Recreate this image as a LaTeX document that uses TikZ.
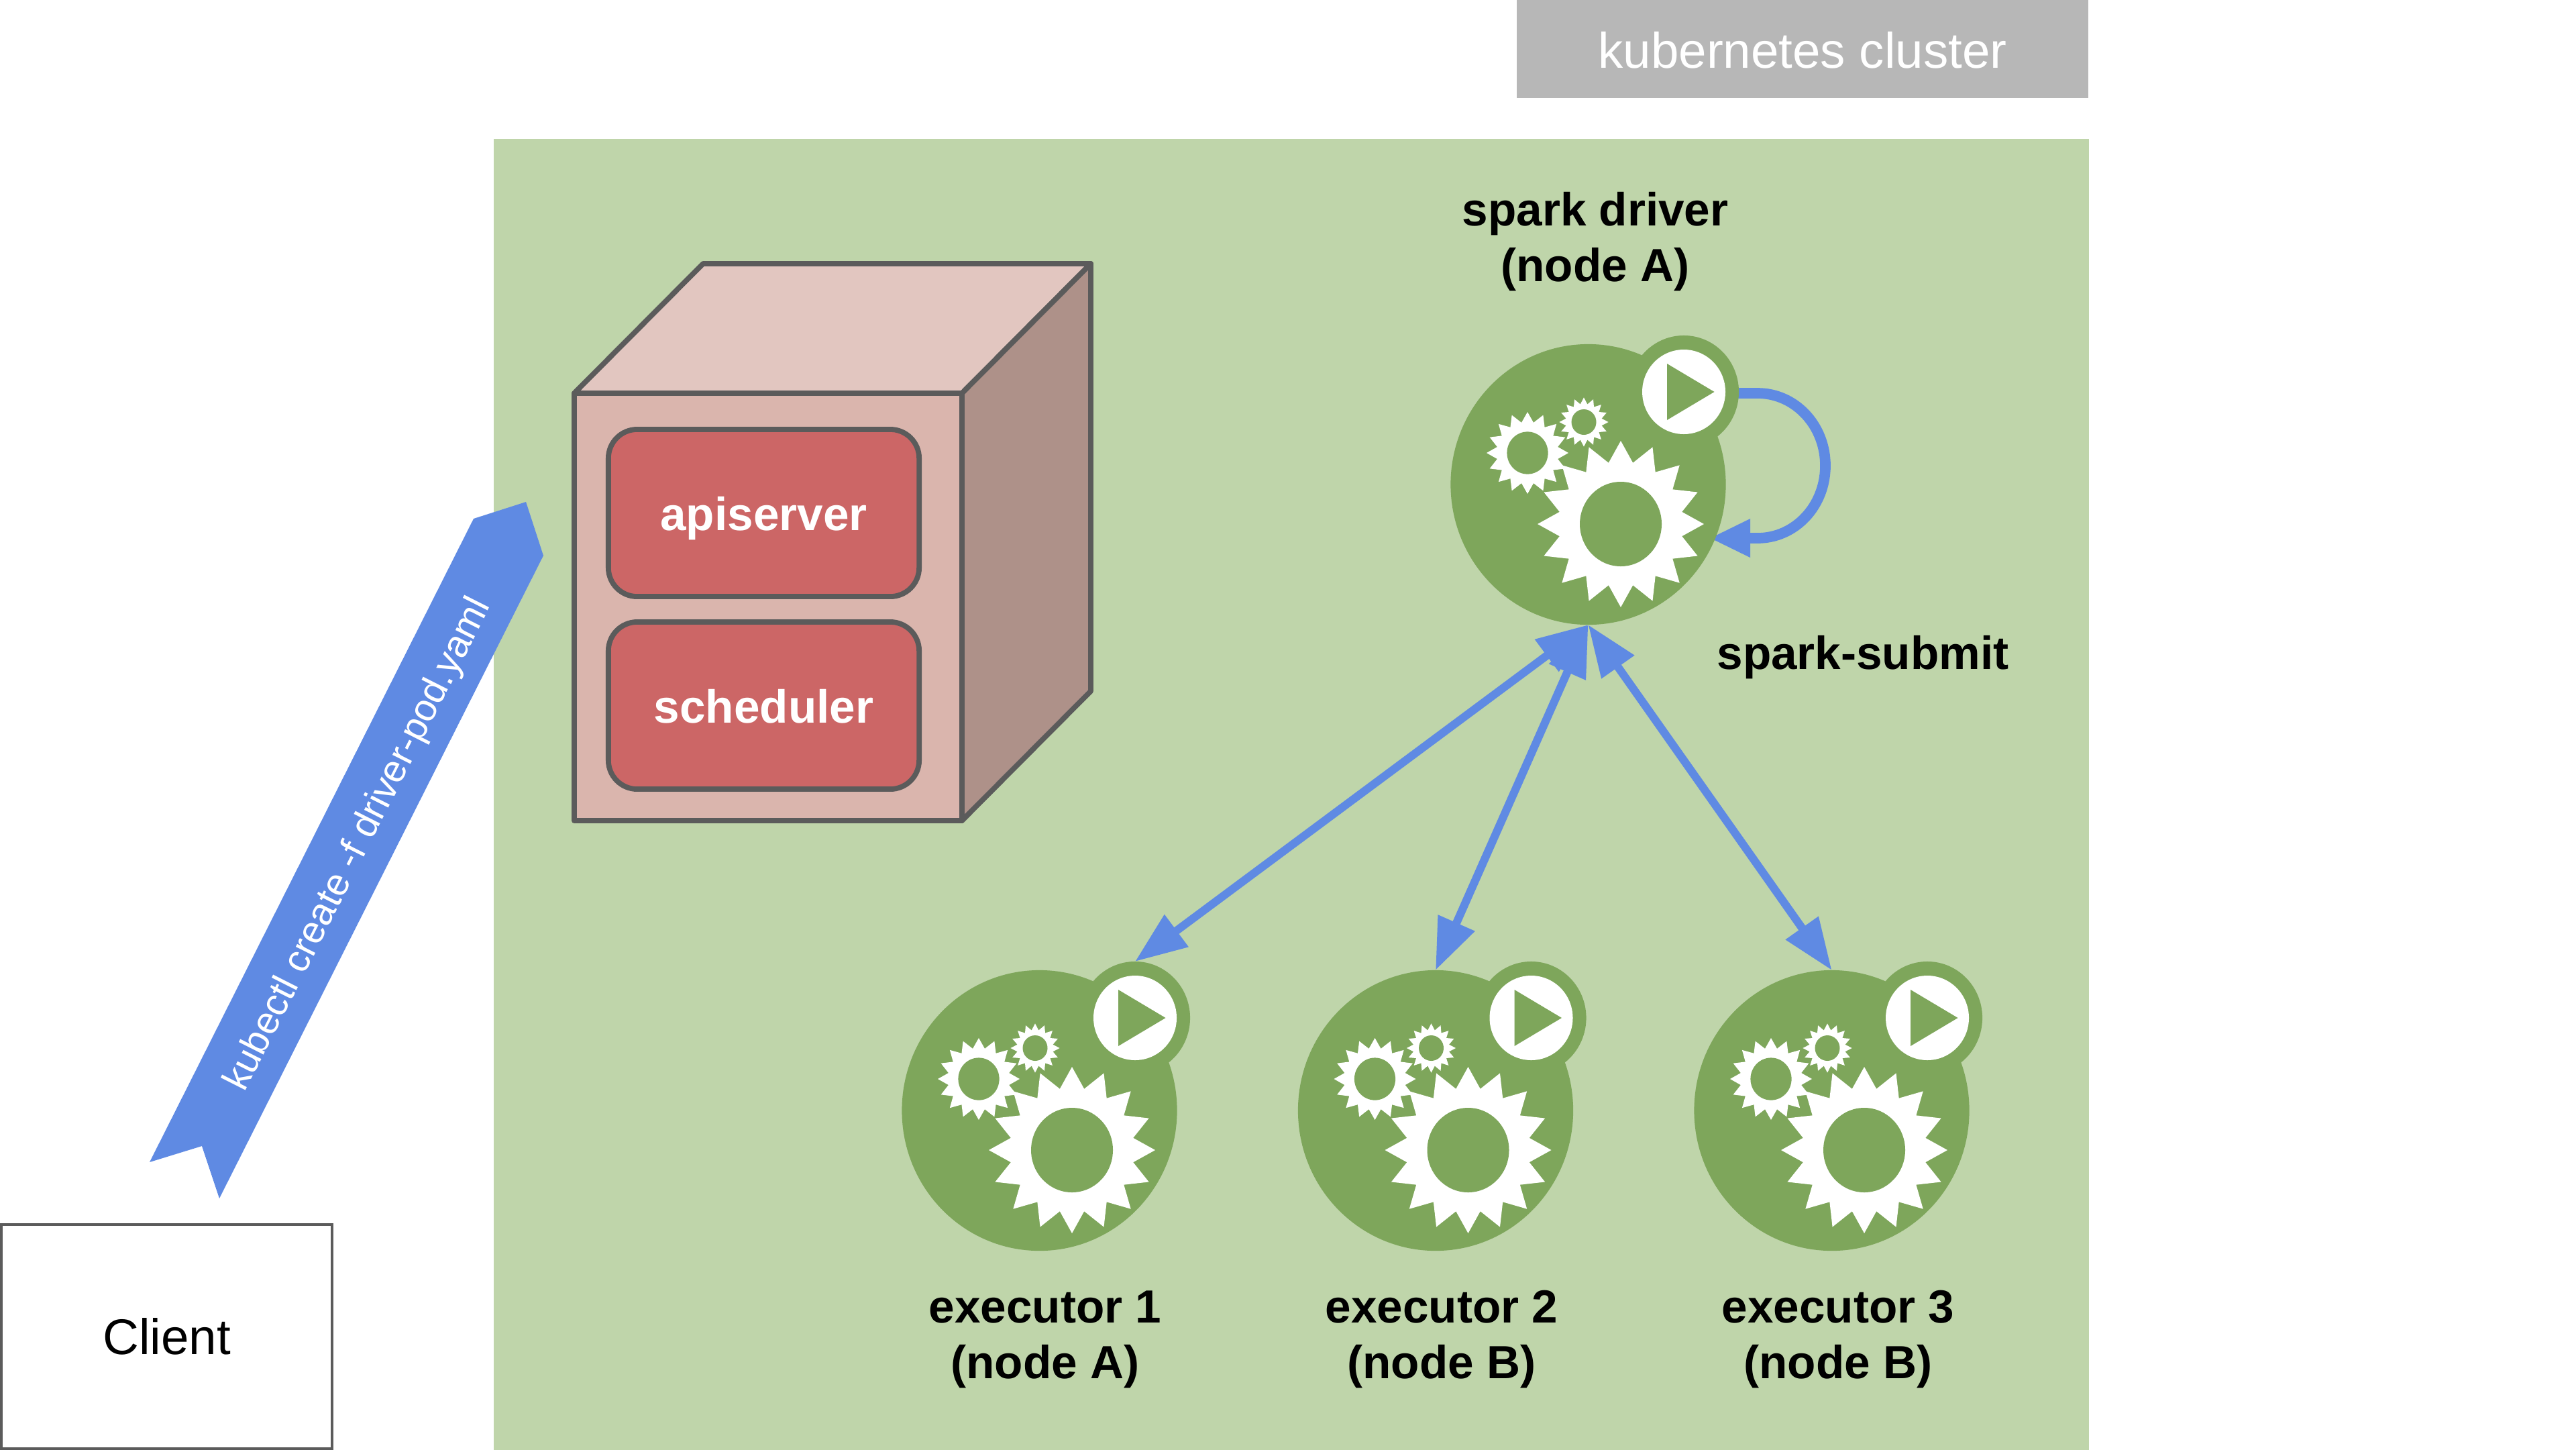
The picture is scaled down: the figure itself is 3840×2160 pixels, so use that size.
\documentclass[tikz,border=0pt]{standalone}
\usepackage{fontspec}
\setmainfont{Liberation Sans}
\usetikzlibrary{shapes.geometric,arrows.meta}
\pgfdeclarelayer{back}
\pgfdeclarelayer{conn}
\pgfsetlayers{back,conn,main}
\definecolor{regionGreen}{HTML}{BFD5AA}
\definecolor{iconGreen}{HTML}{7EA65B}
\definecolor{linkBlue}{HTML}{5F8AE3}
\definecolor{boxTop}{HTML}{E2C6C0}
\definecolor{boxFront}{HTML}{DAB5AD}
\definecolor{boxSide}{HTML}{AE9189}
\definecolor{boxRed}{HTML}{CC6666}
\definecolor{boxLine}{HTML}{5B5B5B}
\definecolor{clusterGrey}{HTML}{B7B7B7}
\newcommand{\gearshape}[6]{%
  \begin{scope}[shift={(#1,#2)}]
    \fill[white] (90:#3) \foreach \k in {1,...,15}{ -- ({90+\k*22.5-11.25}:#4) -- ({90+\k*22.5}:#3)} -- (78.75:#4) -- cycle;
    \fill[iconGreen] (0,0) ellipse [x radius=#5, y radius=#6];
  \end{scope}}
\tikzset{
  flatnode/.style={inner sep=0pt,outer sep=0pt},
  iconbody/.style={flatnode,ellipse,fill=iconGreen,minimum width=4.10cm,minimum height=4.18cm},
  iconring/.style={flatnode,ellipse,fill=iconGreen,minimum width=1.64cm,minimum height=1.68cm},
  cube/.style={draw=boxLine,line width=0.078cm,line join=round},
  boldlabel/.style={flatnode,align=center,font=\fontsize{19.7}{23.7}\selectfont\bfseries},
  podbox/.style={flatnode,draw=boxLine,line width=0.078cm,fill=boxRed,rounded corners=0.43cm,minimum width=4.63cm,minimum height=2.49cm,text=white,font=\fontsize{19.7}{23.7}\selectfont\bfseries,text height=0.62cm,text depth=0.11cm},
  plainlabel/.style={font=\fontsize{21.2}{25}\selectfont},
  biarrow/.style={draw=linkBlue,line width=0.12cm,{Triangle[length=0.77cm,width=0.57cm]}-{Triangle[length=0.77cm,width=0.57cm]}},
  looparrow/.style={draw=linkBlue,line width=0.157cm,-{Triangle[length=0.61cm,width=0.53cm]}},
  sparkicon/.pic={
    \node[iconbody] (body) at (0,0) {};
    \node[iconring] (play) at (142.5,-138) {};
    \fill[white] (142.5,-138) ellipse [x radius=62, y radius=63];
    \fill[iconGreen] (117.5,-180) -- (117.5,-96) -- (188,-138) -- cycle;
    \gearshape{48.5}{59}{124}{93}{61}{63}
    \gearshape{-90.5}{-47}{61}{46}{30.6}{31.6}
    \gearshape{-6.5}{-93}{36.6}{27}{18.5}{19}
  }
}
\begin{document}
\begin{tikzpicture}[x=0.01cm,y=-0.01cm]
\useasboundingbox (0,0) rectangle (3840,2160);
\begin{pgfonlayer}{back}
  \fill[white] (0,0) rectangle (3840,2160);
  \node[flatnode,fill=regionGreen,minimum width=23.76cm,minimum height=19.52cm] (region) at (1925,1184) {};
\end{pgfonlayer}
\node[flatnode,fill=clusterGrey,minimum width=8.52cm,minimum height=1.46cm,text=white,plainlabel,text height=0.6cm,text depth=0.04cm] (cluster) at (2687,73) {kubernetes cluster};

% master cube
\draw[cube,fill=boxTop] (856,586) -- (1048,393) -- (1626,393) -- (1434,586) -- cycle;
\draw[cube,fill=boxSide] (1434,586) -- (1626,393) -- (1626,1030) -- (1434,1223) -- cycle;
\draw[cube,fill=boxFront] (856,586) rectangle (1434,1223);
\node[podbox] (api) at (1138.5,764.5) {apiserver};
\node[podbox] (sched) at (1138.5,1051.5) {scheduler};

% ribbon
\fill[linkBlue] (706,773) -- (784,748) -- (810,828) -- (327,1786) -- (301,1708) -- (223,1732) -- cycle;
\node[flatnode,rotate=63.2,text=white,font=\fontsize{16.2}{20}\selectfont] (ribbon) at (535,1259) {kubectl create -f driver-pod.yaml};

% client
\node[flatnode,draw=boxLine,line width=0.04cm,fill=white,minimum width=4.93cm,minimum height=3.34cm,plainlabel] (client) at (248.5,1992) {Client};

% icons
\pic (drv) at (2367.5,722) {sparkicon};
\pic (exa) at (1549.5,1655) {sparkicon};
\pic (exb) at (2140,1655) {sparkicon};
\pic (exc) at (2730.5,1655) {sparkicon};

% labels
\node[boldlabel] (ldrv) at (2378,360) {spark driver\\(node A)};
\node[boldlabel] (lsub) at (2777,980) {spark-submit};
\node[boldlabel] (la) at (1558,1996) {executor 1\\(node A)};
\node[boldlabel] (lb) at (2149,1996) {executor 2\\(node B)};
\node[boldlabel] (lc) at (2740,1996) {executor 3\\(node B)};

% connectors
\begin{pgfonlayer}{conn}
  \coordinate (loopend) at (2548,802);
  \draw[looparrow] (drvplay.center) -- (2510,586) -- (2620,586) .. controls (2676,586) and (2721,634) .. (2721,694) .. controls (2721,754) and (2676,802) .. (2620,802) -- (loopend);
  \draw[biarrow] (drvbody.south) -- (exaplay.north);
  \draw[biarrow] (drvbody.south) -- (exbbody.north);
  \draw[biarrow] (drvbody.south) -- (excbody.north);
\end{pgfonlayer}
\end{tikzpicture}
\end{document}
